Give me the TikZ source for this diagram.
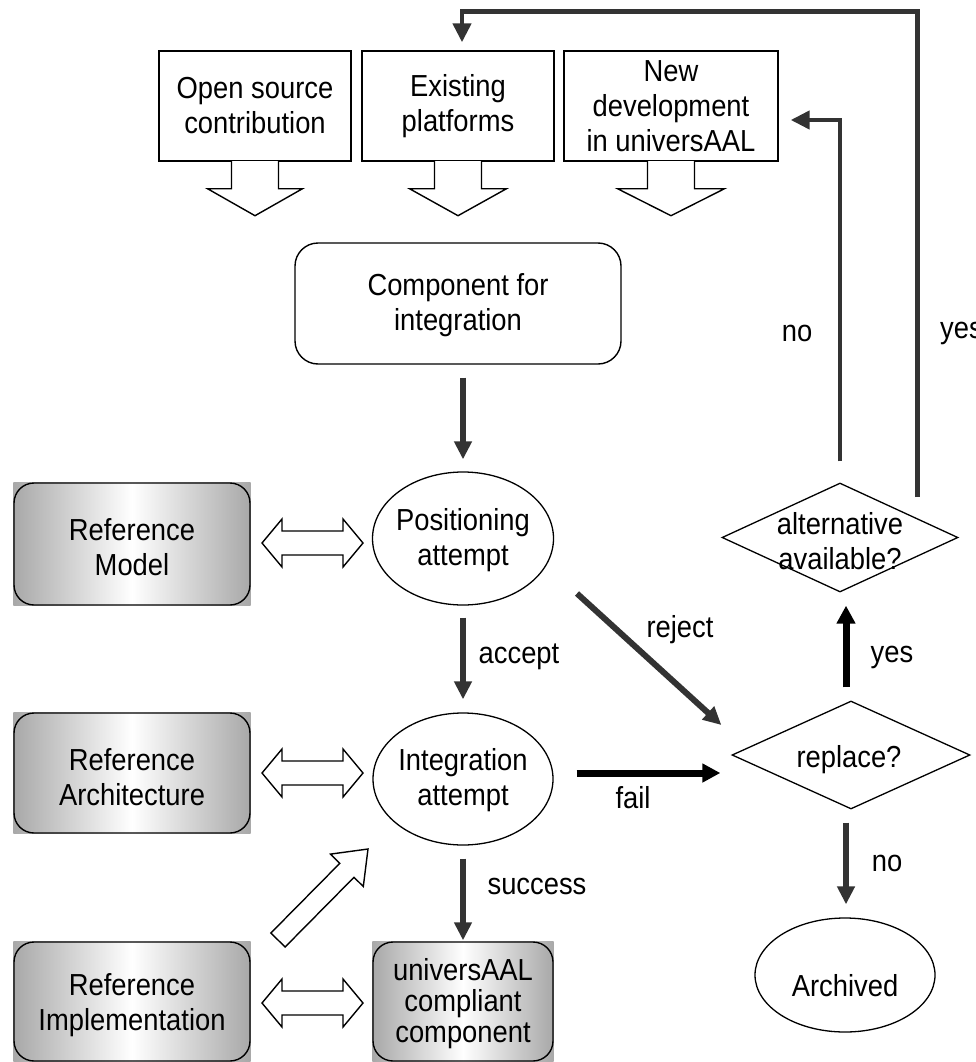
\documentclass[tikz,border=0pt]{standalone}
\usepackage{fontspec}
\setmainfont{Liberation Sans}[FakeStretch=0.9]
\usetikzlibrary{arrows.meta,shapes.geometric,calc,backgrounds}
\definecolor{dk}{RGB}{51,51,51}
\definecolor{shg}{RGB}{168,168,168}
\newcommand\callout[2]{%
  \draw[hollow] ($(#1.south)+(-23.5,-0.7)$) -- ($(#1.south)+(-23.5,27)$) -- ($(#1.south)+(-#2,27)$) -- ($(#1.south)+(0,54)$) -- ($(#1.south)+(#2,27)$) -- ($(#1.south)+(23.5,27)$) -- ($(#1.south)+(23.5,-0.7)$);}
\newcommand\dblar[3]{%
  \draw[hollow] (#1,#3) -- (#1+20,#3-24) -- (#1+20,#3-12) -- (#2-20,#3-12) -- (#2-20,#3-24) -- (#2,#3) -- (#2-20,#3+24) -- (#2-20,#3+12) -- (#1+20,#3+12) -- (#1+20,#3+24) -- cycle;}
\begin{document}
\begin{tikzpicture}[x=1pt,y=-1pt,
  every node/.style={font=\fontsize{30.4}{35}\selectfont, inner sep=0pt, align=center},
  srcbox/.style={draw, line width=1.4pt, minimum height=110pt},
  hollow/.style={draw, fill=white, line width=1.4pt, line join=miter},
  rbox/.style={draw, line width=1.4pt, rounded corners=20pt},
  ell/.style={draw, ellipse, line width=1.3pt},
  dia/.style={draw, diamond, line width=1.3pt},
  darr/.style={draw=dk, line width=6pt, -{Triangle[length=18pt,width=17pt]}},
  barr/.style={draw=black, line width=7pt, -{Triangle[length=18pt,width=18pt]}},
  looparr/.style={draw=dk, line width=4.5pt, line join=miter, -{Triangle[length=19pt,width=18pt]}},
  shd/.style={left color=shg, right color=shg, middle color=white}
]
\useasboundingbox (0,0) rectangle (976,1062);

% source boxes
\node[srcbox, minimum width=192pt] (b1) at (255,106) {Open source\\contribution};
\node[srcbox, minimum width=192pt] (b2) at (458,106) {Existing\\platforms};
\node[srcbox, minimum width=214pt] (b3) at (671,106) {New\\development\\in universAAL};
\callout{b1}{47.5}
\callout{b2}{48.5}
\callout{b3}{53.5}

% component
\node[draw, line width=1.4pt, rounded corners=23pt, minimum width=326pt, minimum height=121pt] (comp) at (458,303.5) {};
\node (compt) at (458,305.5) {Component for\\integration};

% reference boxes
\node[rbox, minimum width=236pt, minimum height=122pt] (rm) at (132,544) {};
\node (rmt) at (132,547) {Reference\\Model};
\node[rbox, minimum width=236pt, minimum height=120pt] (ra) at (132,773) {};
\node (rat) at (132,777) {Reference\\Architecture};
\node[rbox, minimum width=236pt, minimum height=119pt] (ri) at (132,1001.5) {};
\node (rit) at (132,1005.5) {Reference\\Implementation};
\node[rbox, minimum width=180pt, minimum height=119pt] (univ) at (463,1001.5) {};
\node[font=\fontsize{30.4}{31}\selectfont] (univt) at (463,1004) {universAAL\\compliant\\component};

\begin{scope}[on background layer]
  \fill[white] (0,0) rectangle (976,1062);
  \shade[shd] (rm.south west) rectangle (rm.north east);
  \shade[shd] (ra.south west) rectangle (ra.north east);
  \shade[shd] (ri.south west) rectangle (ri.north east);
  \shade[shd] (univ.south west) rectangle (univ.north east);
\end{scope}

% ellipses
\node[ell, minimum width=181pt, minimum height=133pt] (pos) at (463,538.5) {};
\node (post) at (463,540) {Positioning\\attempt};
\node[ell, minimum width=180pt, minimum height=132pt] (int) at (463,779) {};
\node (intt) at (463,780) {Integration\\attempt};
\node[ell, minimum width=180pt, minimum height=114pt] (arch) at (845,975) {};
\node (archt) at (845,986) {Archived};

% diamonds
\node[dia, minimum width=236pt, minimum height=109pt] (alt) at (840,537.5) {};
\node (altt) at (840,541) {alternative\\available?};
\node[dia, minimum width=238pt, minimum height=108pt] (rep) at (851,755) {};
\node (rept) at (849,760) {replace?};

% double hollow arrows
\dblar{262}{363}{543}
\dblar{262}{363}{773}
\dblar{262}{363}{1003}
% diagonal hollow arrow
\draw[hollow] (285.1,947.0) -- (354.0,877.3) -- (363.3,886.5) -- (368,849) -- (330.5,854.1) -- (339.8,863.3) -- (270.9,933.0) -- cycle;

% connectors
\draw[darr] ($(pos.north |- comp.south)+(0,13)$) -- ($(pos.north)+(0,-12)$);
\draw[darr] ($(pos.south)+(0,12)$) -- ($(int.north)+(0,-13)$);
\draw[darr] ($(int.south)+(0,13)$) -- ($(univ.north)+(0,-1)$);
\draw[darr] ($(pos.center)+(114,55)$) -- ($(rep.west)+(-10,-30)$);
\draw[barr] ($(int.east)+(23,-6)$) -- ($(rep.west)+(-11,18)$);
\draw[darr] ($(rep.south)+(-5,13)$) -- ($(arch.north)+(1,-13)$);
\draw[barr] ($(rep.north)+(-5,-13)$) -- ($(alt.south)+(6,13)$);
\draw[looparr] ($(alt.north)+(0,-21)$) |- ($(b3.east)+(12,14)$);
\coordinate (ys) at ($(alt.east)+(-41,-40.5)$);
\draw[looparr] (ys) |- ($(b2.north)+(4,-39)$) -- ($(b2.north)+(4,-8)$);

% labels
\node (lno1) at (797,333) {no};
\node[anchor=west] (lyes1) at (940,333) {yes};
\node (lacc) at (519,657) {accept};
\node (lrej) at (680,630) {reject};
\node (lfail) at (633,798) {fail};
\node (lsucc) at (537,886) {success};
\node (lyes2) at (892,657) {yes};
\node (lno2) at (887,863) {no};
\end{tikzpicture}
\end{document}
